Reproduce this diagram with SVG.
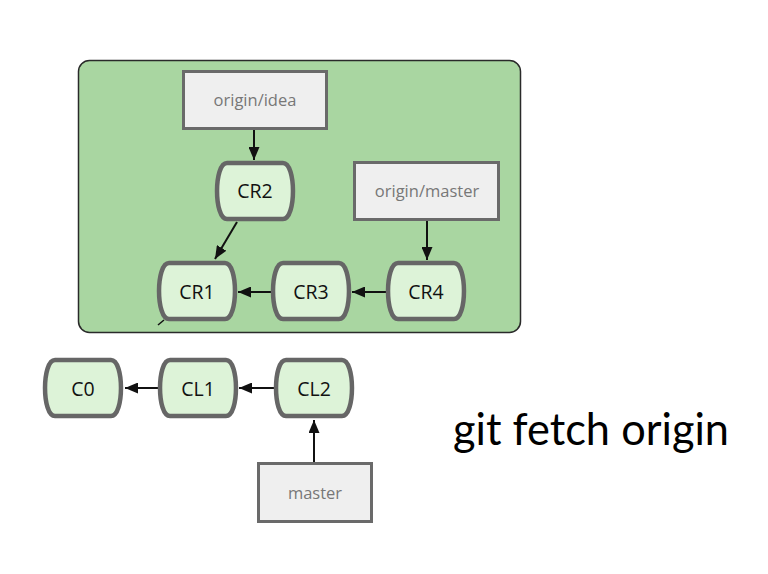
<svg xmlns="http://www.w3.org/2000/svg" width="768" height="574" viewBox="0 0 768 574">
<style>
.commit{fill:#ddf3d8;stroke:#666;stroke-width:4.5}
.ctext{font-family:"Open Sans","Liberation Sans",sans-serif;font-size:19.5px;fill:#111;text-anchor:middle}
.ref{fill:#efefef;stroke:#6a6a6a;stroke-width:3}
.rtext{font-family:"Open Sans","Liberation Sans",sans-serif;font-size:16.5px;fill:#777;text-anchor:middle}
.conn{stroke:#111;stroke-width:2;fill:none}
</style>
<defs>
<path id="barrel" d="M12,2 H68 C81.3,2 81.3,58 68,58 H12 C-1.3,58 -1.3,2 12,2 Z"/>
<marker id="ah" viewBox="0 0 13 11" refX="13" refY="5.5" markerWidth="13" markerHeight="11" markerUnits="userSpaceOnUse" orient="auto">
<path d="M0,0 L13,5.5 L0,11 Z" fill="#111"/>
</marker>
</defs>
<rect width="768" height="574" fill="#ffffff"/>
<g id="remote">
<rect x="78.5" y="60.5" width="442" height="272" rx="11" fill="#a9d6a1" stroke="#2a2a2a" stroke-width="1.5"/>
</g>
<g id="connectors">
<line class="conn" x1="254" y1="129" x2="254" y2="160" marker-end="url(#ah)"/>
<line class="conn" x1="427" y1="221" x2="427" y2="260" marker-end="url(#ah)"/>
<line class="conn" x1="237" y1="222" x2="215" y2="259" marker-end="url(#ah)"/>
<line class="conn" x1="271" y1="292" x2="238" y2="292" marker-end="url(#ah)"/>
<line class="conn" x1="386" y1="292" x2="352" y2="292" marker-end="url(#ah)"/>
<line class="conn" x1="158" y1="388" x2="125" y2="388" marker-end="url(#ah)"/>
<line class="conn" x1="274" y1="388" x2="239" y2="388" marker-end="url(#ah)"/>
<line class="conn" x1="314" y1="462" x2="314" y2="420" marker-end="url(#ah)"/>
<line stroke="#111" stroke-width="1.5" x1="158" y1="325" x2="164" y2="320"/>
</g>
<g id="origin-idea">
<rect class="ref" x="183.5" y="71.5" width="143" height="57"/>
<text class="rtext" x="255" y="106">origin/idea</text>
</g>
<g id="origin-master">
<rect class="ref" x="354.5" y="162.5" width="144" height="57"/>
<text class="rtext" x="427" y="197">origin/master</text>
</g>
<g id="CR2">
<use href="#barrel" class="commit" transform="translate(215,161)"/>
<text class="ctext" x="255" y="198">CR2</text>
</g>
<g id="CR1">
<use href="#barrel" class="commit" transform="translate(157,261)"/>
<text class="ctext" x="197" y="299">CR1</text>
</g>
<g id="CR3">
<use href="#barrel" class="commit" transform="translate(271,261)"/>
<text class="ctext" x="311" y="299">CR3</text>
</g>
<g id="CR4">
<use href="#barrel" class="commit" transform="translate(386,261)"/>
<text class="ctext" x="426" y="299">CR4</text>
</g>
<g id="C0">
<use href="#barrel" class="commit" transform="translate(43,358)"/>
<text class="ctext" x="83" y="396">C0</text>
</g>
<g id="CL1">
<use href="#barrel" class="commit" transform="translate(158,358)"/>
<text class="ctext" x="198" y="396">CL1</text>
</g>
<g id="CL2">
<use href="#barrel" class="commit" transform="translate(274,358)"/>
<text class="ctext" x="314" y="396">CL2</text>
</g>
<g id="master">
<rect class="ref" x="258.5" y="463.5" width="113" height="58"/>
<text class="rtext" x="315" y="499">master</text>
</g>
<text x="453" y="445" font-family="Lato,'Liberation Sans',sans-serif" font-size="44" fill="#000" textLength="276" lengthAdjust="spacingAndGlyphs">git fetch origin</text>
</svg>
